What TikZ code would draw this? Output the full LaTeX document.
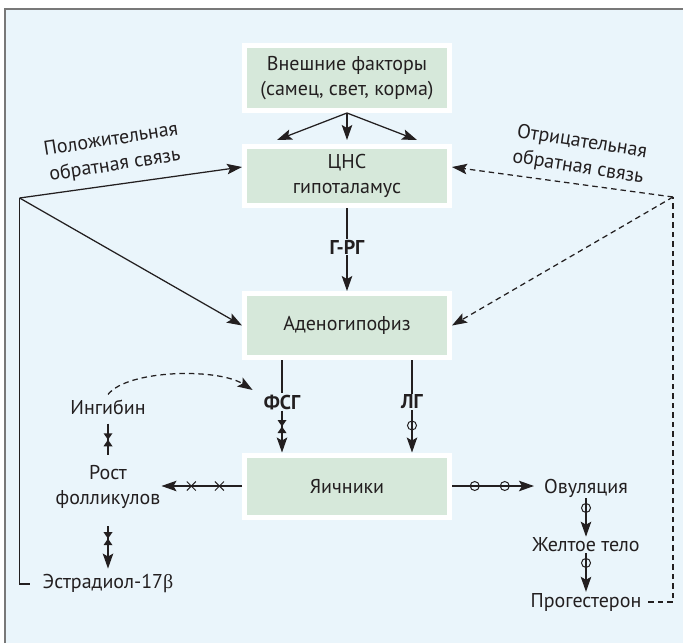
\documentclass[tikz,border=0pt]{standalone}
\usepackage{fontspec}
\setmainfont{PT Sans}
\newfontfamily\grk{Liberation Serif}
\usetikzlibrary{arrows.meta,shapes.misc,calc}
\definecolor{bgblue}{RGB}{234,245,251}
\definecolor{boxgreen}{RGB}{214,232,218}
\definecolor{framegray}{RGB}{120,120,120}
\definecolor{ink}{RGB}{35,31,32}
\newcommand\dfont{\fontsize{20}{25.5}\selectfont}
\tikzset{
  box/.style={draw=white, line width=5pt, fill=boxgreen, minimum width=205pt, align=center, inner sep=0pt, font=\dfont, text=ink},
  txt/.style={align=center, inner sep=1pt, font=\dfont, text=ink},
  bld/.style={align=center, inner sep=1pt, font=\dfont\bfseries, text=ink},
  conn/.style={draw=ink, line width=1.25pt},
  arr/.style={conn, -{Stealth[length=15pt,width=10.5pt,inset=3pt]}},
  dsh/.style={dash pattern=on 5.5pt off 4pt},
  ringmark/.style={circle, draw=ink, line width=1pt, minimum size=9pt, inner sep=0pt},
  xmark/.style={cross out, draw=ink, line width=1pt, minimum size=8pt, inner sep=0pt},
  bowmark/.style={minimum width=9pt, minimum height=13pt, inner sep=0pt,
    path picture={\fill[ink] (path picture bounding box.north west) -- (path picture bounding box.north east) -- (path picture bounding box.south west) -- (path picture bounding box.south east) -- cycle;}}
}
\begin{document}
\begin{tikzpicture}[x=1pt,y=-1pt]
\useasboundingbox (0,0) rectangle (683,643);
\fill[bgblue] (5,9) rectangle (683,643);
\draw[framegray, line width=1.8pt] (5,643) -- (5,9) -- (683,9);

% boxes
\node[box, minimum height=65pt] (ext) at (347,78) {Внешние факторы\\(самец, свет, корма)};
\node[box, minimum height=59pt] (cns) at (347,176) {ЦНС\\гипоталамус};
\node[box, minimum height=64pt] (adeno) at (347,325.5) {Аденогипофиз};
\node[box, minimum height=62pt] (ovary) at (347,486) {Яичники};

% labels
\node[bld] (grg) at (347,247) {Г-РГ};
\node[bld] (fsg) at (282,402) {ФСГ};
\node[bld] (lg) at (412,402) {ЛГ};
\node[txt] (inhib) at (108,407) {Ингибин};
\node[txt] (growth) at (108,487) {Рост\\фолликулов};
\node[txt] (estr) at (108,584) {Эстрадиол-17{\grk β}};
\node[txt] (ovul) at (586,488) {Овуляция};
\node[txt] (corpus) at (586,545) {Желтое тело};
\node[txt] (proges) at (586,602) {Прогестерон};
\node[txt, rotate=9] (poslbl) at (113,153) {Положительная\\обратная связь};
\node[txt, rotate=-9] (neglbl) at (580,155) {Отрицательная\\обратная связь};

\coordinate (lc) at (19.6,198);
\coordinate (rc) at (673,197);

% top arrows
\draw[arr] (ext.south) -- ($(cns.north)+(-70,-4)$);
\draw[arr] (ext.south) -- ($(cns.north)+(0,-4)$);
\draw[arr] (ext.south) -- ($(cns.north)+(70,-4)$);

\draw[conn] (cns.south) -- (grg.north);
\draw[arr] (grg.south) -- (adeno.north);

\draw[conn] (adeno.south -| fsg.north) -- (fsg.north);
\draw[conn] (adeno.south -| lg.north) -- (lg.north);
\draw[arr] (fsg.south) -- node[pos=0.38,bowmark]{} (fsg.south |- ovary.north);
\draw[arr] (lg.south) -- node[pos=0.36,ringmark]{} (lg.south |- ovary.north);

% feedback
\draw[conn] ([xshift=-12pt]estr.west) -| (lc);
\draw[arr] (lc) -- ($(cns.west)+(0,-9)$);
\draw[arr] (lc) -- (adeno.west);
\draw[arr, dsh] (rc) -- ($(cns.east)+(0,-9)$);
\draw[arr, dsh] (rc) -- (adeno.east);
\draw[conn, dsh] ([xshift=6pt]proges.east) -| (rc);

% inhibin
\draw[arr, dsh] ([yshift=4pt]inhib.north) .. controls +(20,-25) and +(-35,-22) .. ($(fsg.west)+(-10,-12)$);
\draw[conn, shorten <=8pt, shorten >=9pt] (inhib.south) -- node[bowmark]{} (growth.north);
\draw[arr, shorten <=16pt, shorten >=5pt] (growth.south) -- node[pos=0.45,bowmark]{} (estr.north);

% ovary outputs
\draw[arr] (ovary.west) -- node[pos=0.28,xmark]{} node[pos=0.63,xmark]{} (ovary.west -| growth.east);
\draw[arr, shorten >=9pt] (ovary.east) -- node[pos=0.25,ringmark]{} node[pos=0.58,ringmark]{} (ovary.east -| ovul.west);
\draw[arr] (ovul.south) -- node[pos=0.25,ringmark]{} (corpus.north);
\draw[arr] (corpus.south) -- node[pos=0.25,ringmark]{} (proges.north);
\end{tikzpicture}
\end{document}
